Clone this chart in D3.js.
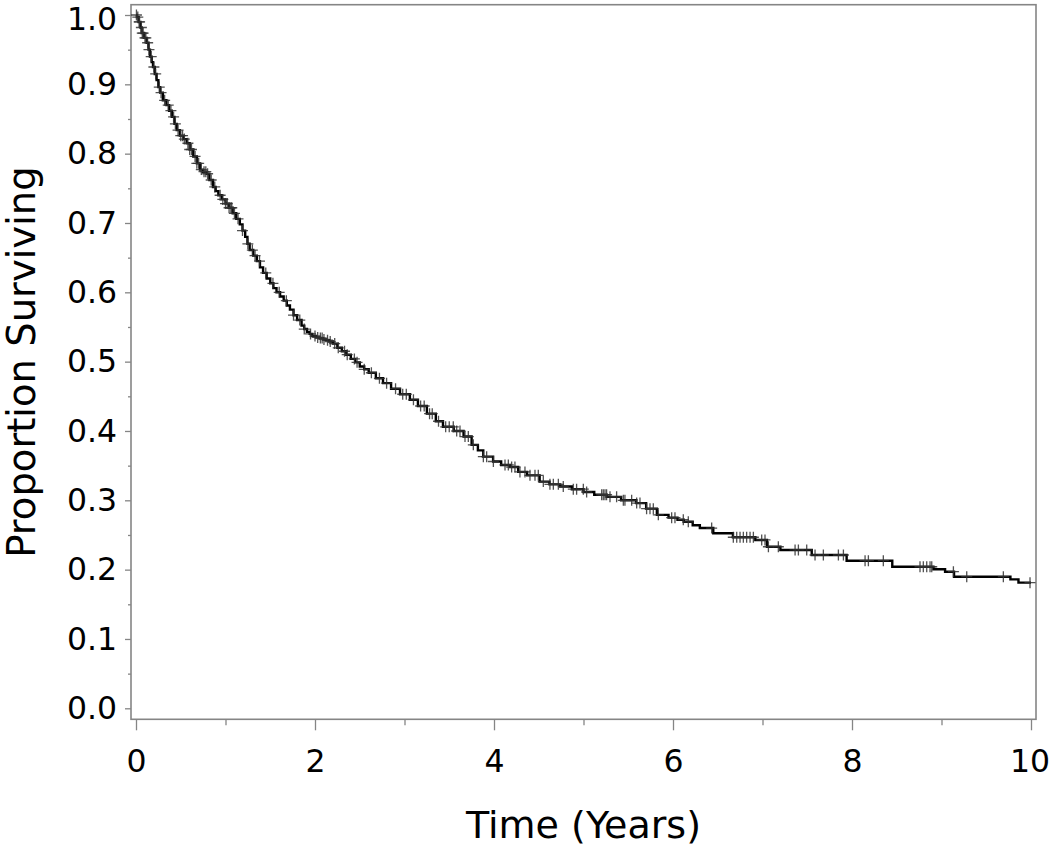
<!DOCTYPE html>
<html>
<head>
<meta charset="utf-8">
<script src="https://cdn.jsdelivr.net/npm/d3@7"></script>
<style>
  html, body { margin: 0; padding: 0; background: #fff; }
  svg { display: block; }
  text { font-family: "DejaVu Sans", Verdana, sans-serif; fill: #000; }
</style>
</head>
<body>
<svg id="chart" width="1050" height="848"></svg>
<script>
// ---- data ----
// Kaplan-Meier step points: time (years) at which survival drops, and the new survival value
const stepTimes = [0, 0.01, 0.03, 0.05, 0.063, 0.09, 0.12, 0.14, 0.156, 0.175, 0.19, 0.21, 0.23, 0.25, 0.27, 0.30, 0.34, 0.37, 0.40, 0.43, 0.455, 0.49, 0.53, 0.566, 0.60, 0.64, 0.68, 0.715, 0.75, 0.79, 0.82, 0.86, 0.89, 0.92, 0.96, 1.0, 1.04, 1.08, 1.12, 1.16, 1.19, 1.22, 1.245, 1.27, 1.31, 1.35, 1.385, 1.42, 1.46, 1.50, 1.535, 1.57, 1.61, 1.65, 1.685, 1.72, 1.76, 1.80, 1.85, 1.88, 1.91, 1.94, 1.97, 2.01, 2.05, 2.09, 2.12, 2.16, 2.2, 2.25, 2.3, 2.35, 2.4, 2.45, 2.5, 2.55, 2.6, 2.68, 2.76, 2.85, 2.95, 3.06, 3.15, 3.25, 3.35, 3.43, 3.55, 3.66, 3.75, 3.82, 3.88, 3.99, 4.08, 4.18, 4.27, 4.37, 4.51, 4.62, 4.74, 4.87, 5.0, 5.12, 5.26, 5.42, 5.59, 5.70, 5.82, 5.95, 6.05, 6.12, 6.22, 6.30, 6.45, 6.67, 6.92, 7.05, 7.20, 7.55, 7.94, 8.45, 8.91, 9.04, 9.14, 9.77, 9.86];
const stepSurvival = [1.0, 0.997, 0.99, 0.982, 0.974, 0.967, 0.960, 0.950, 0.940, 0.932, 0.925, 0.915, 0.906, 0.896, 0.888, 0.877, 0.870, 0.862, 0.853, 0.843, 0.834, 0.826, 0.821, 0.815, 0.806, 0.796, 0.786, 0.777, 0.774, 0.771, 0.762, 0.752, 0.746, 0.740, 0.734, 0.728, 0.722, 0.714, 0.706, 0.698, 0.689, 0.680, 0.670, 0.661, 0.653, 0.645, 0.636, 0.628, 0.620, 0.613, 0.606, 0.600, 0.594, 0.588, 0.581, 0.575, 0.567, 0.560, 0.552, 0.547, 0.543, 0.540, 0.537, 0.535, 0.534, 0.532, 0.531, 0.529, 0.526, 0.520, 0.515, 0.510, 0.504, 0.499, 0.493, 0.489, 0.484, 0.476, 0.469, 0.461, 0.453, 0.445, 0.436, 0.425, 0.414, 0.406, 0.400, 0.392, 0.380, 0.372, 0.363, 0.356, 0.351, 0.348, 0.341, 0.336, 0.327, 0.323, 0.320, 0.316, 0.312, 0.308, 0.305, 0.300, 0.296, 0.288, 0.279, 0.275, 0.272, 0.269, 0.264, 0.260, 0.2524, 0.2467, 0.2428, 0.233, 0.2284, 0.2211, 0.2129, 0.2042, 0.2005, 0.197, 0.1898, 0.186, 0.1812];
const endTime = 10.0;

// censored observation times (years)
const censorTimes = [
  0.005, 0.02, 0.035, 0.04, 0.06, 0.07, 0.08, 0.10, 0.11, 0.13, 0.145, 0.17, 0.20, 0.22, 0.26, 0.28, 0.32, 0.36, 0.39, 0.42, 0.44, 0.47, 0.50, 0.52, 0.54, 0.58, 0.60, 0.62, 0.66, 0.68, 0.70, 0.73, 0.76, 0.78, 0.80, 0.84, 0.88, 0.94, 0.97, 1.00, 1.02, 1.04, 1.06, 1.07, 1.10, 1.14, 1.19, 1.25, 1.30, 1.33, 1.38, 1.45, 1.53, 1.60, 1.68, 1.76, 1.83, 1.88, 1.95, 2.00, 2.03, 2.06, 2.08, 2.10, 2.14, 2.17, 2.22, 2.26, 2.33, 2.36, 2.44, 2.47, 2.55, 2.63, 2.72, 2.80, 2.90, 2.98, 3.02, 3.10, 3.18, 3.22, 3.28, 3.31, 3.38, 3.46, 3.50,
  3.545, 3.583, 3.62, 3.676, 3.713, 3.769, 3.881, 3.918, 3.993, 4.123, 4.16, 4.197, 4.234, 4.29, 4.346, 4.402, 4.458, 4.495, 4.551, 4.625, 4.663, 4.719, 4.774, 4.886, 4.923, 4.998, 5.035, 5.203, 5.221, 5.24, 5.258, 5.296, 5.37, 5.445, 5.463, 5.538, 5.594, 5.631, 5.705, 5.743, 5.78, 5.836, 5.985, 6.022, 6.115, 6.171,
  6.432, 6.674, 6.712, 6.749, 6.786, 6.823, 6.861, 6.898, 6.991, 7.028, 7.066, 7.177, 7.364, 7.401, 7.494, 7.587, 7.68, 7.848, 7.904, 8.146, 8.183, 8.35, 8.76, 8.797, 8.835, 8.872, 8.891, 9.133, 9.282, 9.691, 9.989
];

const xMajorTicks = [0, 2, 4, 6, 8, 10];
const xMinorTicks = [1, 3, 5, 7, 9];
const yMajorTicks = [0, 0.1, 0.2, 0.3, 0.4, 0.5, 0.6, 0.7, 0.8, 0.9, 1.0];
const yMinorTicks = [0.05, 0.15, 0.25, 0.35, 0.45, 0.55, 0.65, 0.75, 0.85, 0.95];
const xTitle = "Time (Years)";
const yTitle = "Proportion Surviving";

// ---- layout ----
const frame = { left: 131, right: 1036, top: 4.7, bottom: 719.3 };
const svg = d3.select("#chart");

const x = d3.scaleLinear().domain([0, 10]).range([136, 1031]);
const y = d3.scaleLinear().domain([0, 1]).range([708.3, 15]);

const axisGrey = "#858585";
const tickFont = 31.5;

// y axis
const yMajor = svg.append("g").attr("transform", `translate(${frame.left},0)`)
  .call(d3.axisLeft(y).tickValues(yMajorTicks).tickSize(6).tickPadding(8).tickFormat(d3.format(".1f")));
const yMinor = svg.append("g").attr("transform", `translate(${frame.left},0)`)
  .call(d3.axisLeft(y).tickValues(yMinorTicks).tickSize(3).tickFormat(""));

// x axis
const xMajor = svg.append("g").attr("transform", `translate(0,${frame.bottom})`)
  .call(d3.axisBottom(x).tickValues(xMajorTicks).tickSize(11).tickPadding(19).tickFormat(d3.format("d")));
const xMinor = svg.append("g").attr("transform", `translate(0,${frame.bottom})`)
  .call(d3.axisBottom(x).tickValues(xMinorTicks).tickSize(6).tickFormat(""));

[yMajor, yMinor, xMajor, xMinor].forEach(g => {
  g.select(".domain").remove();
  g.selectAll(".tick line").attr("stroke", axisGrey).attr("stroke-width", 1.3);
  g.selectAll(".tick text").attr("font-size", tickFont).attr("font-family", "DejaVu Sans").attr("fill", "#000");
});
// keep the edge labels inside the picture
xMajor.selectAll(".tick text").filter(d => d === 10).attr("dx", -1.5);
yMajor.selectAll(".tick text").filter(d => d === 1).attr("dy", "0.46em");

// frame
svg.append("rect")
  .attr("x", frame.left).attr("y", frame.top)
  .attr("width", frame.right - frame.left).attr("height", frame.bottom - frame.top)
  .attr("fill", "none").attr("stroke", axisGrey).attr("stroke-width", 1.6);

// survival step line
const stepData = stepTimes.map((t, i) => ({ t, s: stepSurvival[i] }));
stepData.push({ t: endTime, s: stepSurvival[stepSurvival.length - 1] });

const line = d3.line().x(d => x(d.t)).y(d => y(d.s)).curve(d3.curveStepAfter);
svg.append("path").datum(stepData)
  .attr("d", line).attr("fill", "none").attr("stroke", "#000").attr("stroke-width", 2.4);

// survival at a given time from the step data
function survivalAt(t) {
  let s = stepSurvival[0];
  for (let i = 0; i < stepTimes.length; i++) { if (stepTimes[i] <= t) s = stepSurvival[i]; else break; }
  return s;
}

// censor marks
svg.append("g").selectAll("path").data(censorTimes).join("path")
  .attr("transform", d => `translate(${x(d)},${y(survivalAt(d))})`)
  .attr("d", "M-5.5,0H5.5M0,-5.5V5.5")
  .attr("stroke", "#333").attr("stroke-opacity", 0.85).attr("stroke-width", 1.3).attr("fill", "none");

// titles
svg.append("text").attr("x", 583.5).attr("y", 838)
  .attr("text-anchor", "middle").attr("font-size", 38).text(xTitle);
svg.append("text").attr("transform", "translate(35,362) rotate(-90)")
  .attr("text-anchor", "middle").attr("font-size", 38.5).text(yTitle);
</script>
</body>
</html>
